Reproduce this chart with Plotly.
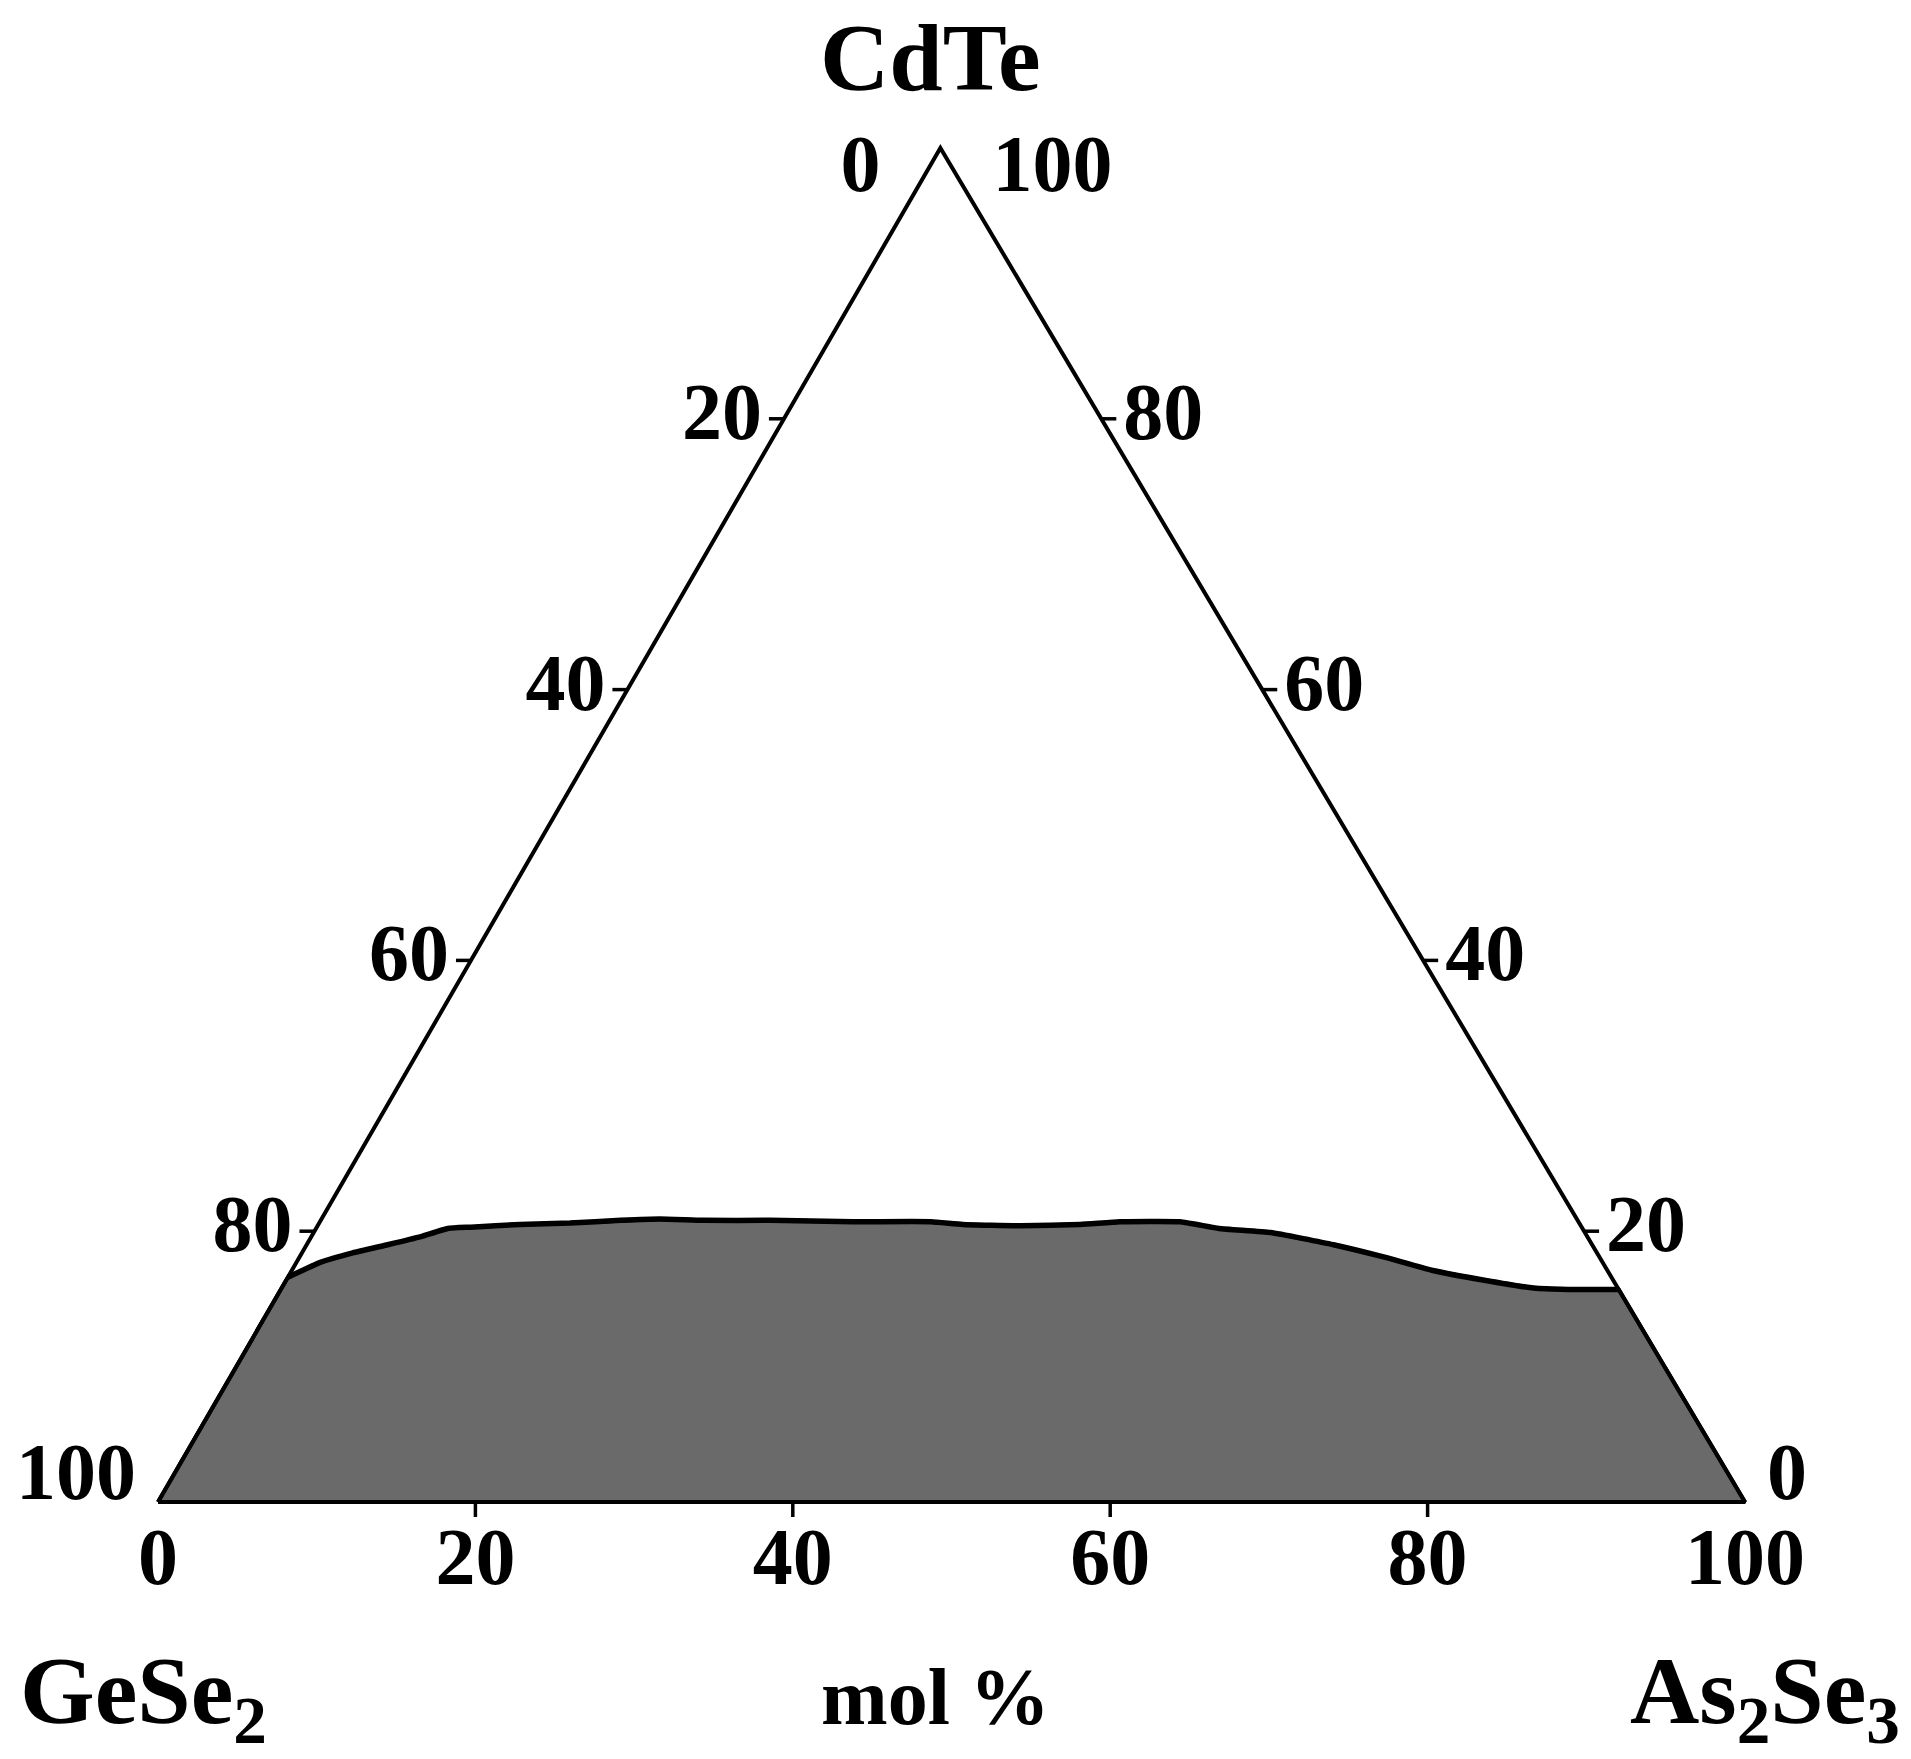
import plotly.graph_objects as go

# boundary of the shaded region (mol %)
cdte = [16.6, 17.7, 18.4, 19.0, 19.6, 20.2, 20.3, 20.5, 20.6, 20.8, 20.9, 20.8, 20.8, 20.7,
        20.7, 20.5, 20.4, 20.5, 20.7, 20.7, 20.2, 19.9, 19.0, 18.1, 17.1, 16.4, 15.8, 15.7, 15.7]
as2se3 = [0.0, 1.5, 3.2, 5.1, 6.9, 8.3, 9.7, 12.7, 15.8, 18.9, 21.3, 24.1, 28.3, 33.6,
          38.5, 40.6, 44.3, 48.0, 50.4, 54.2, 56.9, 60.3, 64.7, 68.3, 71.9, 75.4, 78.9, 81.1, 84.3]
gese2 = [round(100 - c - a, 1) for c, a in zip(cdte, as2se3)]

# corners of the diagram: GeSe2, As2Se3, CdTe
corner_cdte = [0, 0, 100]
corner_as2se3 = [0, 100, 0]

tick_vals = [0, 20, 40, 60, 80, 100]
left_labels = [str(100 - v) for v in tick_vals]  # GeSe2 along the GeSe2-CdTe side
right_labels = [str(v) for v in tick_vals]  # CdTe along the CdTe-As2Se3 side
bottom_labels = [str(v) for v in tick_vals]  # As2Se3 along the base

W, H = 1911, 1759
FONT = "Liberation Serif"

# where the triangle sits on the page, in pixels, and how far the apex leans
BASE_L, BASE_R, BASE_Y, APEX_Y = 158, 1745, 1502, 148
APEX = 0.493
SX = (BASE_R - BASE_L) / 100.0  # px per mol % along the base
SY = (BASE_Y - APEX_Y) / 100.0  # px per mol % of CdTe
TICK = 15  # tick length, px
GAP = 22  # side label gap, px
TOP_GAP_L, TOP_GAP_R = 60, 52  # gaps of the labels next to the apex, px
CORNER_DY = 23  # corner labels sit this far inside the corner height, px
DROP = 22  # gap between base and bottom labels, px


def to_x(cd, arsen):
    return [a + APEX * c for c, a in zip(cd, arsen)]


fig = go.Figure()

# shaded region, closed through the two bottom corners
reg_cdte = [0] + cdte + [0, 0]
reg_as = [0] + as2se3 + [100, 0]
fig.add_trace(go.Scatter(
    x=to_x(reg_cdte, reg_as), y=reg_cdte,
    mode="lines", fill="toself", fillcolor="#6a6a6a",
    line=dict(color="black", width=4),
    hoverinfo="skip",
))
fig.add_trace(go.Scatter(
    x=to_x(cdte, as2se3), y=cdte,
    mode="lines", line=dict(color="black", width=5.5, shape="spline", smoothing=0.4),
    hoverinfo="skip",
))

# triangle
tri_cdte = corner_cdte + corner_cdte[:1]
tri_as = corner_as2se3 + corner_as2se3[:1]
fig.add_trace(go.Scatter(
    x=to_x(tri_cdte, tri_as), y=tri_cdte,
    mode="lines", line=dict(color="black", width=4),
    hoverinfo="skip",
))

# ticks
tx, ty = [], []
for v in tick_vals[1:-1]:
    xl = APEX * v
    tx += [xl, xl - TICK / SX, None]
    ty += [v, v, None]
    xr = (100 - v) + APEX * v
    tx += [xr, xr + TICK / SX, None]
    ty += [v, v, None]
    tx += [v, v, None]
    ty += [0, -TICK / SY, None]
fig.add_trace(go.Scatter(x=tx, y=ty, mode="lines", line=dict(color="black", width=3.5),
                         hoverinfo="skip"))

label_font = dict(family=FONT, size=80, color="black", weight="bold")


def side_y(v):
    if v == 100:
        return v - CORNER_DY / SY
    if v == 0:
        return v + CORNER_DY / SY
    return v


# left side labels
lx = [APEX * v - (TOP_GAP_L if v == 100 else GAP) / SX for v in tick_vals]
fig.add_trace(go.Scatter(
    x=lx, y=[side_y(v) for v in tick_vals], mode="text", text=left_labels,
    textposition="middle left", textfont=label_font, hoverinfo="skip",
))
# right side labels
rx = [(100 - v) + APEX * v + (TOP_GAP_R if v == 100 else GAP) / SX for v in tick_vals]
fig.add_trace(go.Scatter(
    x=rx, y=[side_y(v) for v in tick_vals], mode="text", text=right_labels,
    textposition="middle right", textfont=label_font, hoverinfo="skip",
))
# base labels
fig.add_trace(go.Scatter(
    x=tick_vals, y=[-DROP / SY] * len(tick_vals), mode="text", text=bottom_labels,
    textposition="bottom center", textfont=label_font, hoverinfo="skip",
))

fig.update_layout(
    width=W,
    height=H,
    margin=dict(l=0, r=0, t=0, b=0),
    paper_bgcolor="white",
    plot_bgcolor="white",
    showlegend=False,
    xaxis=dict(visible=False, range=[-BASE_L / SX, (W - BASE_L) / SX], fixedrange=True),
    yaxis=dict(visible=False, range=[-(H - BASE_Y) / SY, 100 + APEX_Y / SY], fixedrange=True),
)

title_font = dict(family=FONT, size=96, color="black", weight="bold")
fig.add_annotation(text="CdTe", x=930 / W, y=1 - 57 / H, xref="paper", yref="paper",
                   showarrow=False, font=title_font, xanchor="center", yanchor="middle")
fig.add_annotation(text="GeSe<sub>2</sub>", x=18 / W, y=1 - 1697 / H, xref="paper", yref="paper",
                   showarrow=False, font=title_font, xanchor="left", yanchor="middle")
fig.add_annotation(text="As<sub>2</sub>Se<sub>3</sub>", x=1902 / W, y=1 - 1697 / H, xref="paper",
                   yref="paper", showarrow=False, font=title_font, xanchor="right", yanchor="middle")
fig.add_annotation(text="mol %", x=935 / W, y=1 - 1697 / H, xref="paper", yref="paper",
                   showarrow=False, font=dict(family=FONT, size=80, color="black", weight="bold"),
                   xanchor="center", yanchor="middle")

# the page is photographed from its top-left corner, so drop the default body margin
fig.write_html("out.html", config={"displayModeBar": False},
               post_script="document.body.style.margin = '0px';")
